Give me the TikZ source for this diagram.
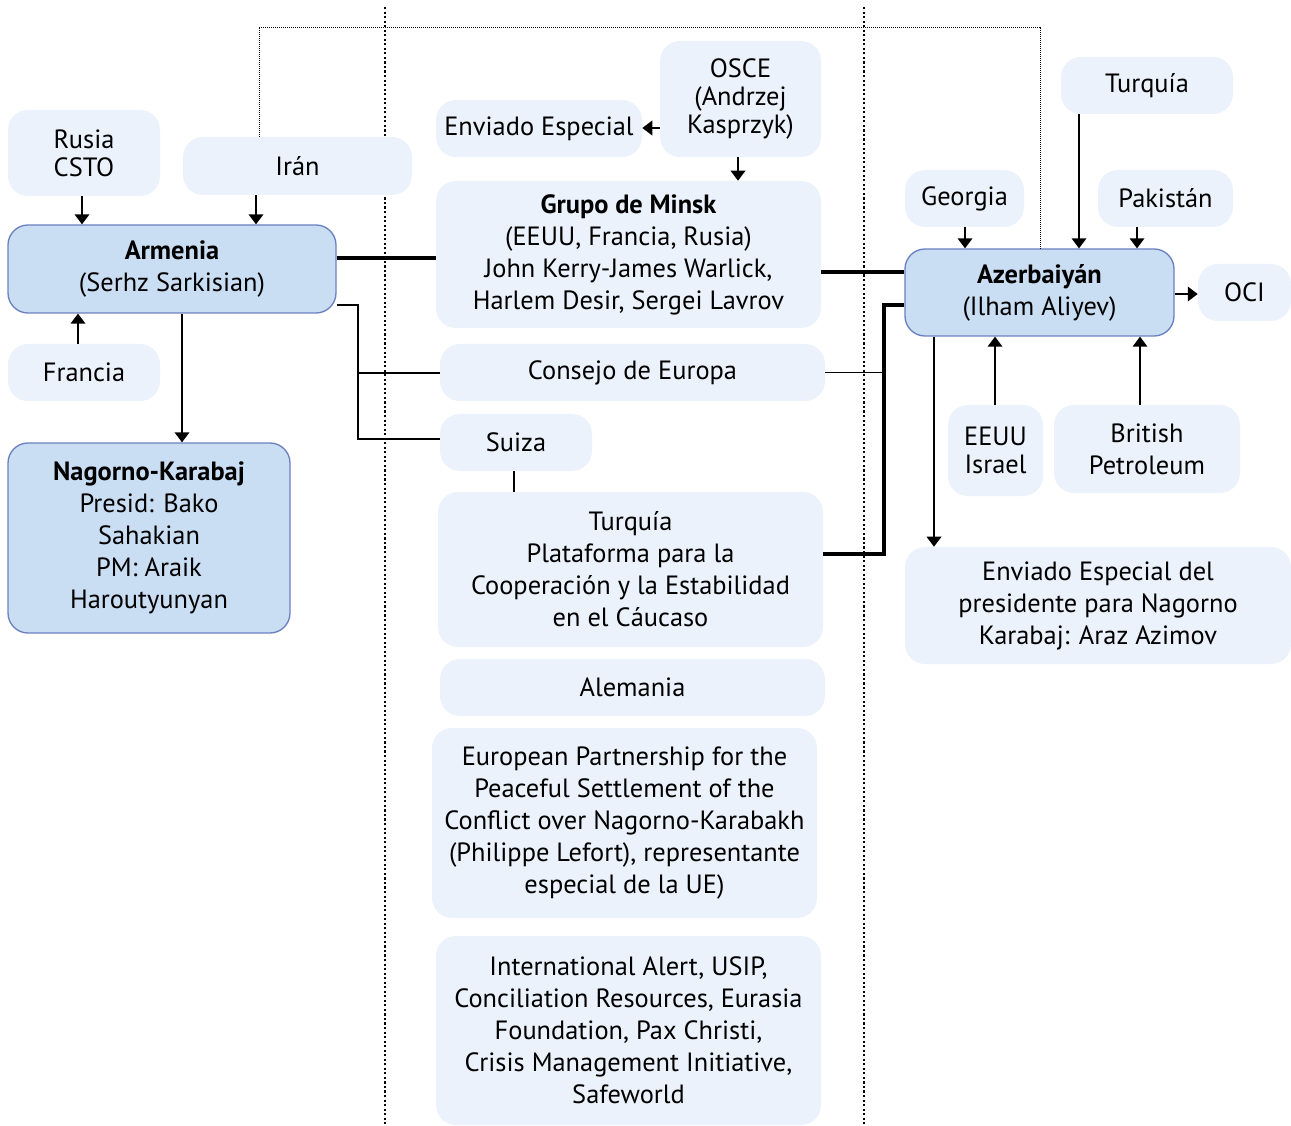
\documentclass[tikz,border=0pt]{standalone}
\usepackage{fontspec}
\setmainfont{PT Sans}
\usetikzlibrary{arrows.meta}
\definecolor{lightfill}{HTML}{EBF2FB}
\definecolor{darkfill}{HTML}{C9DDF3}
\definecolor{darkline}{HTML}{6C80C0}
\tikzset{
  px/.style 2 args={minimum width=#1*0.75pt, minimum height=#2*0.75pt},
  lbox/.style={fill=lightfill, draw=none, rounded corners=15pt, inner sep=0pt, align=center,
    font=\fontsize{19.8}{24}\selectfont},
  dbox/.style={lbox, fill=darkfill, draw=darkline, line width=1pt},
  tight/.style={font=\fontsize{19.8}{21}\selectfont},
  conn/.style={line width=1.1pt},
  thick conn/.style={line width=2.3pt},
  arr/.style={conn, -{Triangle[width=11pt,length=7.5pt]}},
  sepline/.style={line width=1.8pt, dash pattern=on 1.6pt off 1.8pt},
  frameline/.style={line width=0.7pt, dash pattern=on 0.7pt off 0.8pt},
}
\begin{document}
\begin{tikzpicture}[x=0.75pt, y=-0.75pt]
\useasboundingbox (0,0) rectangle (1291,1126);

% dotted column separators
\draw[sepline] (385,7) -- (385,1126);
\draw[sepline] (864,7) -- (864,1126);

% left column
\node[lbox, tight, px={152}{86}] (rusia) at (84,153) {Rusia\\CSTO};
\node[lbox, px={229}{58}] (iran) at (297.5,166) {Irán};
\node[dbox, px={328}{88}] (armenia) at (172,269) {\textbf{Armenia}\\(Serhz Sarkisian)};
\node[lbox, px={152}{57}] (francia) at (84,372.5) {Francia};
\node[dbox, px={282}{190}] (nk) at (149,538) {\textbf{Nagorno-Karabaj}\\Presid: Bako\\Sahakian\\PM: Araik\\Haroutyunyan};

% middle column
\node[lbox, px={206}{57}] (envesp) at (539,128.5) {Enviado Especial};
\node[lbox, tight, px={161}{116}] (osce) at (740.5,99) {OSCE\\(Andrzej\\Kasprzyk)};
\node[lbox, px={385}{147}] (minsk) at (628.5,254.5) {\textbf{Grupo de Minsk}\\(EEUU, Francia, Rusia)\\John Kerry-James Warlick,\\Harlem Desir, Sergei Lavrov};
\node[lbox, px={385}{57}] (consejo) at (632.5,372.5) {Consejo de Europa};
\node[lbox, px={152}{57}] (suiza) at (516,442.5) {Suiza};
\node[lbox, px={385}{155}] (tp) at (630.5,569.5) {Turquía\\Plataforma para la\\Cooperación y la Estabilidad\\en el Cáucaso};
\node[lbox, px={385}{57}] (alemania) at (632.5,687.5) {Alemania};
\node[lbox, px={385}{190}] (epart) at (624.5,823) {European Partnership for the\\Peaceful Settlement of the\\Conflict over Nagorno-Karabakh\\(Philippe Lefort), representante\\especial de la UE)};
\node[lbox, px={385}{189}] (ialert) at (628.5,1030.5) {International Alert, USIP,\\Conciliation Resources, Eurasia\\Foundation, Pax Christi,\\Crisis Management Initiative,\\Safeworld};

% right column
\node[lbox, px={172}{57}] (turqr) at (1147,85.5) {Turquía};
\node[lbox, px={119}{57}] (georgia) at (964.5,198.5) {Georgia};
\node[lbox, px={135}{57}] (pak) at (1165.5,198.5) {Pakistán};
\node[dbox, px={269}{87}] (azer) at (1039.5,292.5) {\textbf{Azerbaiyán}\\(Ilham Aliyev)};
\node[lbox, px={93}{57}] (oci) at (1244.5,292.5) {OCI};
\node[lbox, tight, px={95}{91}] (eeuu) at (995.5,450.5) {EEUU\\Israel};
\node[lbox, px={186}{88}] (bp) at (1147,449) {British\\Petroleum};
\node[lbox, px={386}{117}] (envpres) at (1098,605.5) {Enviado Especial del\\presidente para Nagorno\\Karabaj: Araz Azimov};

% thin dotted frame from Irán to Azerbaiyán
\coordinate (f1) at (259,27);
\coordinate (f2) at (1040,27);
\draw[frameline] (iran.north -| 259,0) -- (f1) -- (f2) -- (azer.north -| 1040,0);

% Armenia connectors
\draw[arr] (rusia.south -| 82,0) -- (armenia.north -| 82,0);
\draw[arr] (iran.south -| 256,0) -- (armenia.north -| 256,0);
\draw[arr] (francia.north -| 78,0) -- (armenia.south -| 78,0);
\draw[arr] (armenia.south -| 182,0) -- (nk.north -| 182,0);
\draw[thick conn] (armenia.east |- 0,258) -- (minsk.west |- 0,258);
\coordinate (ja) at (358,305);
\coordinate (jb) at (358,439);
\coordinate (jc) at (358,373);
\draw[conn] (armenia.east |- ja) -- (ja) -- (jb) -- (suiza.west |- jb);
\draw[conn] (jc) -- (consejo.west |- jc);

% middle connectors
\draw[conn] (suiza.south -| 514,0) -- (tp.north -| 514,0);
\draw[arr] (osce.west |- 0,128) -- (envesp.east |- 0,128);
\draw[arr] (osce.south -| 738,0) -- (minsk.north -| 738,0);

% Azerbaiyán connectors
\draw[thick conn] (minsk.east |- 0,272) -- (azer.west |- 0,272);
\coordinate (ka) at (884,305);
\coordinate (kb) at (884,554);
\draw[thick conn] (azer.west |- ka) -- (ka) -- (kb) -- (tp.east |- kb);
\draw[conn] (consejo.east) -- (ka |- consejo.east);
\draw[arr] (georgia.south -| 965,0) -- (azer.north -| 965,0);
\draw[arr] (turqr.south -| 1079,0) -- (azer.north -| 1079,0);
\draw[arr] (pak.south -| 1137,0) -- (azer.north -| 1137,0);
\draw[arr] (azer.east |- 0,294) -- (oci.west |- 0,294);
\draw[arr] (eeuu.north -| 995,0) -- (azer.south -| 995,0);
\draw[arr] (bp.north -| 1140,0) -- (azer.south -| 1140,0);
\draw[arr] (azer.south -| 934,0) -- (envpres.north -| 934,0);
\end{tikzpicture}
\end{document}
